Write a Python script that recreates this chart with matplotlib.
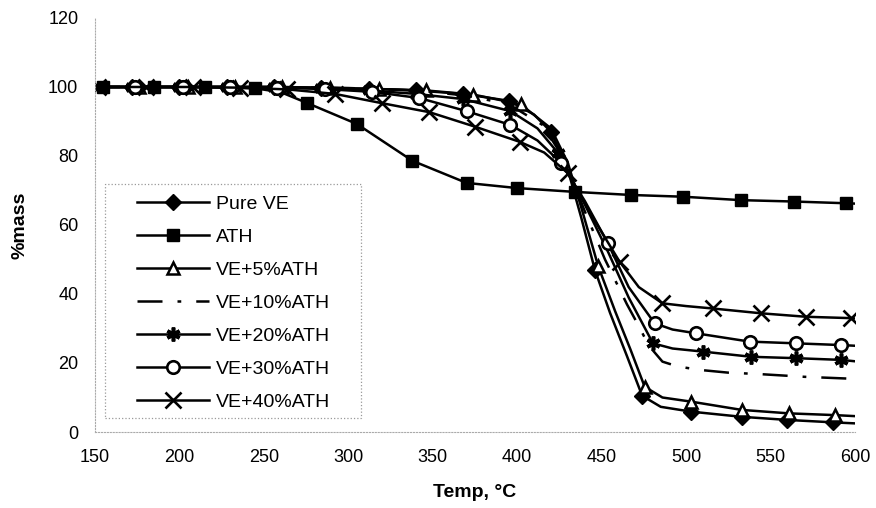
import matplotlib
matplotlib.use("Agg")
import matplotlib.pyplot as plt
from matplotlib.patches import Rectangle

plt.rcParams['font.family'] = ['Liberation Sans', 'DejaVu Sans']

# ---------------- data ----------------
pure_x = [150, 172, 200, 228, 256, 284, 312, 340, 368, 395, 410, 420, 430, 438, 446, 455, 465, 474, 485, 503, 533, 560, 587, 600]
pure_y = [100, 100, 100, 100, 100, 99.8, 99.5, 99, 98, 96, 92, 87, 76, 62, 47, 34.5, 22, 10.5, 7.3, 5.9, 4.4, 3.5, 2.8, 2.5]
pure_m = [172, 200, 228, 256, 284, 312, 340, 368, 395, 420, 446, 474, 503, 533, 560, 587]

ath_x = [150, 155, 185, 215, 245, 260, 275.4, 305, 338, 370, 400, 434, 467.5, 498, 532.6, 564, 594.8, 600]
ath_y = [100, 100, 100, 100, 99.6, 98.5, 95.4, 89.3, 78.6, 72.2, 70.7, 69.6, 68.7, 68.2, 67.2, 66.8, 66.3, 66.2]
ath_m = [155, 185, 215, 245, 275.4, 305, 338, 370, 400, 434, 467.5, 498, 532.6, 564, 594.8]

v5_x = [150, 176, 205, 233, 261, 289, 318, 346, 374, 402, 420, 430, 438, 448, 458, 467, 475.5, 486, 503, 533, 561, 588, 600]
v5_y = [100, 100, 100, 100, 100, 99.7, 99.4, 99, 97.8, 95, 88, 78, 65, 48, 35, 24, 13.1, 10, 8.8, 6.4, 5.4, 4.9, 4.6]
v5_m = [176, 205, 233, 261, 289, 318, 346, 374, 402, 448, 475.5, 503, 533, 561, 588]

v10_x = [150, 200, 250, 300, 340, 370, 395, 415, 428, 440, 452, 465, 471, 478, 486, 495, 508, 525, 543, 570, 600]
v10_y = [100, 100, 100, 99.7, 99, 97.5, 95, 89, 79, 64, 50, 37, 31.6, 25, 20.4, 19, 18, 17.2, 16.8, 16, 15.4]

v20_x = [150, 172, 200, 228, 256, 284, 312, 340, 368, 396, 412, 424, 440, 454, 466, 480.4, 492, 510, 538.6, 565, 591.8, 600]
v20_y = [100, 100, 100, 100, 100, 99.6, 99, 98, 96.5, 93, 88, 81, 66, 52, 39, 25.7, 24.2, 23.3, 21.8, 21.4, 20.9, 20.5]
v20_m = [172, 200, 228, 256, 284, 312, 340, 368, 396, 424, 480.4, 510, 538.6, 565, 591.8]

v30_x = [150, 174, 202, 230, 258, 286, 314, 342, 370, 396, 412, 426, 440, 453.7, 466, 481.4, 492, 506, 537.6, 565, 591.8, 600]
v30_y = [100, 100, 100, 100, 99.8, 99.4, 98.6, 96.8, 93, 89, 84.5, 78, 67, 54.7, 42, 31.5, 29.7, 28.6, 26.2, 25.7, 25.2, 25]
v30_m = [174, 202, 230, 258, 286, 314, 342, 370, 396, 426, 453.7, 481.4, 506, 537.6, 565, 591.8]

v40_x = [150, 152, 180, 208, 236, 264, 292, 320, 348, 375, 401.5, 416, 430, 445, 460.6, 472, 486, 500, 515.8, 544.5, 571, 597.7, 600]
v40_y = [100, 100, 100, 100, 99.8, 99.3, 98, 95.3, 92.7, 88.5, 84.1, 81, 75, 62, 49.4, 42, 37.3, 36.5, 35.8, 34.4, 33.4, 33.0, 32.9]
v40_m = [152, 180, 208, 236, 264, 292, 320, 348, 375, 401.5, 430, 460.6, 486, 515.8, 544.5, 571, 597.7]

labels = ['Pure VE', 'ATH', 'VE+5%ATH', 'VE+10%ATH', 'VE+20%ATH', 'VE+30%ATH', 'VE+40%ATH']
x_ticks = [150, 200, 250, 300, 350, 400, 450, 500, 550, 600]
y_ticks = [0, 20, 40, 60, 80, 100, 120]

# ---------------- figure ----------------
fig = plt.figure(figsize=(8.76, 5.08), dpi=100)
ax = fig.add_axes([0.1084, 0.1496, 0.8676, 0.815])


def idx(xs, marks):
    return [i for i, v in enumerate(xs) if v in marks]


lw = 1.8
ax.plot(pure_x, pure_y, color='black', lw=lw, marker='D', ms=8, mfc='black', mec='black',
        markevery=idx(pure_x, pure_m), label=labels[0])
ax.plot(ath_x, ath_y, color='black', lw=lw, marker='s', ms=9, mfc='black', mec='black',
        markevery=idx(ath_x, ath_m), label=labels[1])
ax.plot(v5_x, v5_y, color='black', lw=lw, marker='^', ms=9, mfc='white', mec='black', mew=1.8,
        markevery=idx(v5_x, v5_m), label=labels[2])
ax.plot(v10_x, v10_y, color='black', lw=lw, dashes=[10, 6, 1.5, 6], label=labels[3])
ax.plot(v20_x, v20_y, color='black', lw=lw, marker=(6, 2, 0), ms=10, mec='black', mew=2.6,
        markevery=idx(v20_x, v20_m), label=labels[4])
ax.plot(v30_x, v30_y, color='black', lw=lw, marker='o', ms=9, mfc='white', mec='black', mew=1.9,
        markevery=idx(v30_x, v30_m), label=labels[5])
ax.plot(v40_x, v40_y, color='black', lw=lw, marker='x', ms=12, mec='black', mew=1.9,
        markevery=idx(v40_x, v40_m), label=labels[6])

ax.set_xlim(150, 600)
ax.set_ylim(0, 120)
ax.set_xticks(x_ticks)
ax.set_yticks(y_ticks)
ax.tick_params(axis='both', length=0, labelsize=13)
ax.tick_params(axis='x', pad=12)
ax.tick_params(axis='y', pad=12)

for s in ['top', 'right']:
    ax.spines[s].set_visible(False)
for s in ['left', 'bottom']:
    ax.spines[s].set_linestyle(':')
    ax.spines[s].set_color('#aaaaaa')
    ax.spines[s].set_linewidth(0.8)

ax.set_xlabel('Temp, °C', fontsize=14, fontweight='bold', labelpad=13)
ax.set_ylabel('%mass', fontsize=14, fontweight='bold', labelpad=14)

# legend box (dotted frame) and entries
ax.add_patch(Rectangle((0.0132, 0.0338), 0.3368, 0.5652, transform=ax.transAxes,
                       fill=True, facecolor='white', edgecolor='#999999', linestyle=':',
                       linewidth=0.9, zorder=4))
leg = ax.legend(loc='upper left', bbox_to_anchor=(0.0553, 0.571), fontsize=14,
                handlelength=3.7, handletextpad=0.35, labelspacing=0.79,
                borderpad=0, borderaxespad=0, frameon=False)
leg.set_zorder(5)

fig.savefig('out.png', dpi=100)
